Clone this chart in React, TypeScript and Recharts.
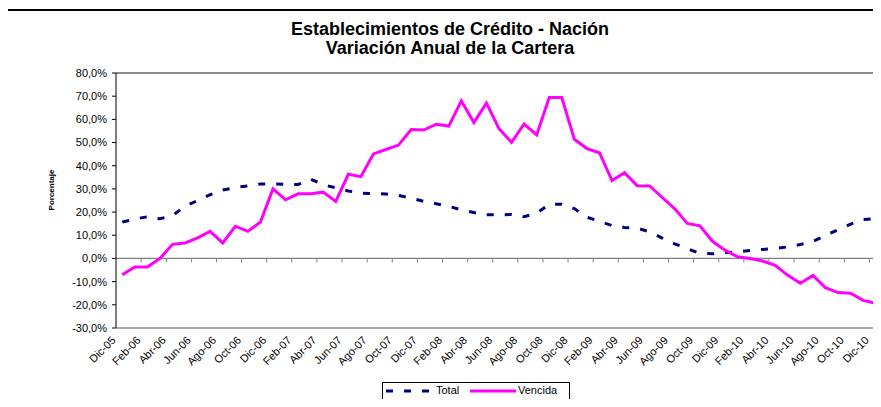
import { LineChart, Line, XAxis, YAxis, ReferenceLine, Label } from 'recharts'

const meses = ['Ene', 'Feb', 'Mar', 'Abr', 'May', 'Jun', 'Jul', 'Ago', 'Sep', 'Oct', 'Nov', 'Dic']
const anios = ['06', '07', '08', '09', '10']

// Dic-05 ... Dic-10, mensual
const categorias = ['Dic-05', ...anios.flatMap(a => meses.map(m => `${m}-${a}`))]

const total = [
  15.7, 17.0, 18.0, 17.1, 18.5, 22.5, 25.0, 27.5, 29.5, 30.6, 31.3, 32.1, 32.2,
  32.0, 31.9, 34.2, 31.8, 30.5, 29.1, 28.2, 28.0, 27.8, 27.2, 26.0, 24.6,
  23.6, 22.5, 21.0, 19.8, 18.8, 18.8, 19.0, 18.0, 19.5, 23.4, 23.4, 21.5,
  17.8, 16.0, 14.2, 13.4, 13.1, 11.5, 8.8, 6.3, 4.2, 2.2, 2.0, 2.5,
  2.9, 3.4, 3.9, 4.3, 5.0, 6.0, 7.3, 9.9, 12.4, 14.8, 16.8, 17.1,
]

const vencida = [
  -7.0, -3.7, -3.7, 0.0, 6.1, 6.7, 8.9, 11.7, 6.7, 13.9, 11.7, 15.7, 30.0,
  25.3, 27.9, 27.9, 28.6, 24.6, 36.3, 35.3, 45.1, 47.0, 48.9, 55.6, 55.4,
  57.9, 57.1, 68.0, 58.6, 67.0, 56.0, 50.1, 58.0, 53.3, 69.4, 69.4, 51.4,
  47.4, 45.6, 33.6, 37.0, 31.4, 31.3, 26.3, 21.4, 15.1, 14.1, 7.4, 3.6,
  0.7, 0.0, -1.1, -3.0, -7.3, -10.7, -7.3, -12.6, -14.7, -15.0, -18.1, -19.3,
]

const yTicks = [-30, -20, -10, 0, 10, 20, 30, 40, 50, 60, 70, 80]

const data = categorias.map((c, i) => ({ mes: c, total: total[i], vencida: vencida[i] }))

const FONT = "Arial, 'Liberation Sans', sans-serif"
const CHART_W = 900
const CHART_H = 407
const TOP = 73
const PLOT_LEFT = 116
const PLOT_RIGHT = 882
const PLOT_BOTTOM = 328
const PLOT_H = PLOT_BOTTOM - TOP
const PAD = 6.3
const HALF = (PLOT_RIGHT - PLOT_LEFT - 2 * PAD) / (categorias.length - 1) / 2

const fmt = (v: number) => v.toFixed(1).replace('.', ',') + '%'

function XTick(props: any) {
  const { x, y, payload } = props
  const zeroY = y - PLOT_H * (0 - yTicks[0]) / (yTicks[yTicks.length - 1] - yTicks[0])
  const ax = x - 6
  const ay = y + 13
  return (
    <g>
      <line x1={x - HALF} x2={x - HALF} y1={zeroY} y2={zeroY + 4} stroke="#808080" />
      <text x={ax} y={ay} transform={`rotate(-45, ${ax}, ${ay})`} textAnchor="end"
        fontSize={11} fontFamily={FONT} fill="#000">
        {payload.value}
      </text>
    </g>
  )
}

function Leyenda() {
  return (
    <div style={{ position: 'absolute', left: 382, top: 382, width: 186, height: 16, border: '1px solid #000', background: '#fff', fontFamily: FONT, fontSize: 11 }}>
      <svg width={186} height={16} style={{ position: 'absolute', left: 0, top: 0 }}>
        <line x1={3} x2={50} y1={8} y2={8} stroke="#000080" strokeWidth={3} strokeDasharray="7 11" />
        <line x1={87} x2={133} y1={8} y2={8} stroke="#ff00ff" strokeWidth={3} />
      </svg>
      <span style={{ position: 'absolute', left: 53, top: 1 }}>Total</span>
      <span style={{ position: 'absolute', left: 135, top: 1 }}>Vencida</span>
    </div>
  )
}

export default function App() {
  return (
    <div style={{ position: 'relative', margin: -8, width: 881, height: 407, overflow: 'hidden', background: '#fff' }}>
      <div style={{ position: 'absolute', left: 5, top: 9, width: 1000, height: 1000, borderTop: '2px solid #000', borderLeft: '2px solid #000' }} />
      <div style={{ position: 'absolute', left: 0, top: 20, width: CHART_W, textAlign: 'center', fontFamily: FONT, fontWeight: 'bold', fontSize: 18, lineHeight: '19px' }}>
        Establecimientos de Crédito - Nación<br />Variación Anual de la Cartera
      </div>
      <div style={{ position: 'absolute', left: 0, top: 0 }}>
        <LineChart width={CHART_W} height={CHART_H} data={data}
          margin={{ top: TOP, right: CHART_W - PLOT_RIGHT, bottom: CHART_H - PLOT_BOTTOM - 30, left: 0 }}>
          <XAxis dataKey="mes" interval={1} height={30} padding={{ left: PAD, right: PAD }}
            axisLine={false} tickLine={false} tickSize={0} tickMargin={0} tick={<XTick />} />
          <YAxis width={PLOT_LEFT} domain={[yTicks[0], yTicks[yTicks.length - 1]]} ticks={yTicks}
            tickFormatter={fmt} interval={0} axisLine={{ stroke: '#000' }} tickLine={{ stroke: '#000' }}
            tickSize={4} tickMargin={5} tick={{ fontSize: 11, fontFamily: FONT, fill: '#000' }}>
            <Label content={() => (
              <text x={54} y={190} transform="rotate(-90, 54, 190)" textAnchor="middle"
                fontSize={8} fontWeight="bold" fontFamily={FONT} fill="#000">Porcentaje</text>
            )} />
          </YAxis>
          <ReferenceLine y={80} stroke="#8c8c8c" strokeWidth={2} />
          <ReferenceLine y={-30} stroke="#8c8c8c" strokeWidth={1.5} />
          <ReferenceLine y={0} stroke="#808080" strokeWidth={1.2} />
          <Line dataKey="total" name="Total" stroke="#000080" strokeWidth={3} strokeDasharray="7 11"
            dot={false} isAnimationActive={false} />
          <Line dataKey="vencida" name="Vencida" stroke="#ff00ff" strokeWidth={3}
            dot={false} isAnimationActive={false} type="linear" />
        </LineChart>
      </div>
      <Leyenda />
    </div>
  )
}
